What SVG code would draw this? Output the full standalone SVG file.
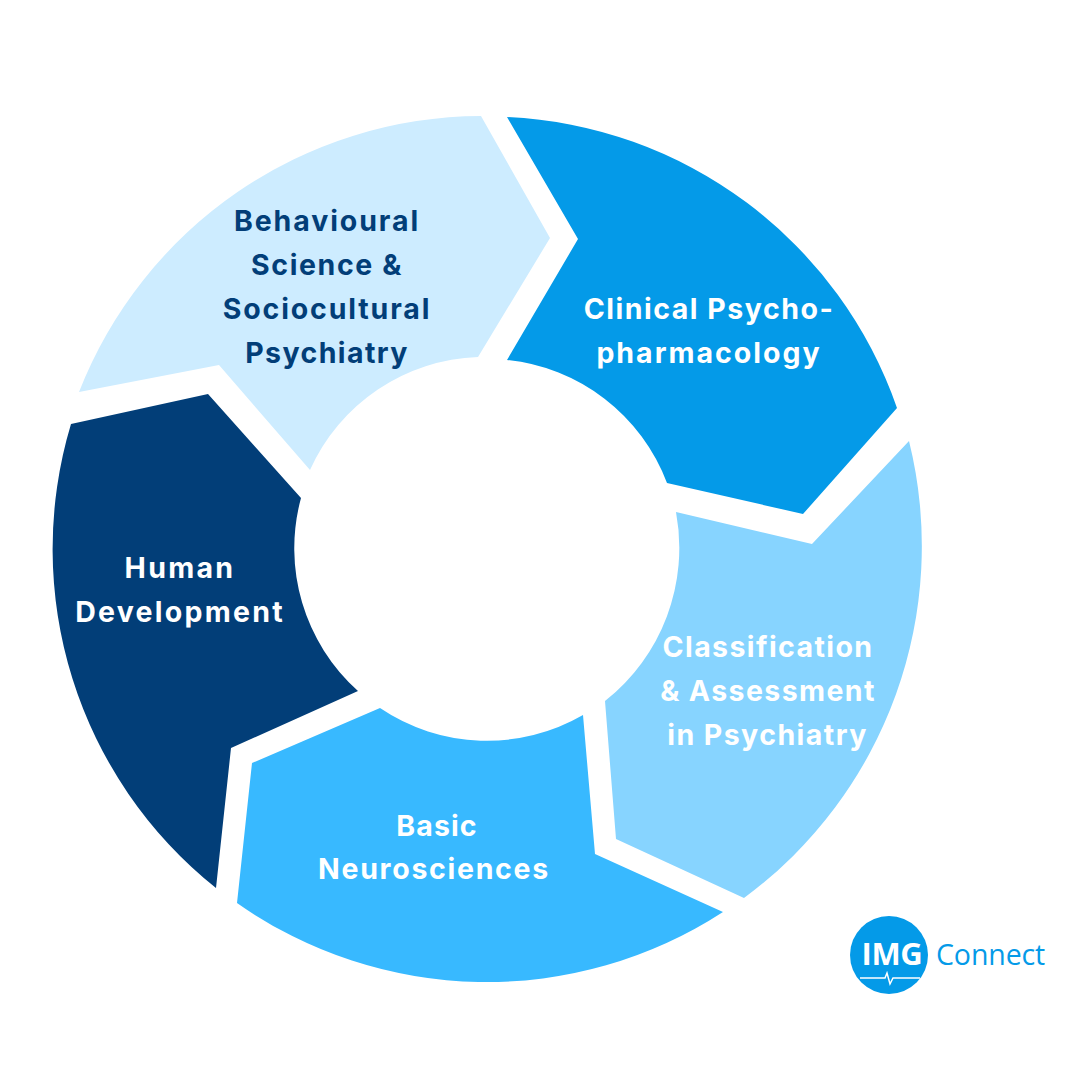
<svg xmlns="http://www.w3.org/2000/svg" width="1080" height="1080" viewBox="0 0 1080 1080">
<style>
.l{font-family:Inter,"Liberation Sans",sans-serif;font-weight:700;font-size:28.5px;letter-spacing:1.7px;text-anchor:middle}
.w{fill:#fff}.d{fill:#023e78}
</style>
<rect width="1080" height="1080" fill="#fff"/>
<g id="node-clinical"><path fill="#049ae8" d="M507 117A433.500 433.500 0 0 1 897 408L803 514L667 483A191.500 191.500 0 0 0 507 360L578 239Z"/>
<text class="l w" x="709" y="319" letter-spacing="1.5" style="letter-spacing:1.5px">Clinical Psycho-</text><text class="l w" x="709" y="363" style="letter-spacing:2px">pharmacology</text></g>
<g id="node-classification"><path fill="#87d4ff" d="M909 441A437 437 0 0 1 744 898L616 839L605 701A195 195 0 0 0 676 512L812 544Z"/>
<text class="l w" x="768" y="657" style="letter-spacing:1.4px">Classification</text><text class="l w" x="768" y="701" style="letter-spacing:1.4px">&amp; Assessment</text><text class="l w" x="767.500" y="745" style="letter-spacing:1.45px">in Psychiatry</text></g>
<g id="node-basic"><path fill="#38b9ff" d="M723 912A433.500 433.500 0 0 1 237 903L252 763L380 708A191.500 191.500 0 0 0 583 715L595 854Z"/>
<text class="l w" x="437" y="836" style="letter-spacing:1.1px">Basic</text><text class="l w" x="434" y="879">Neurosciences</text></g>
<g id="node-human"><path fill="#023e78" d="M216 888A433.500 433.500 0 0 1 71 424L208 394L301 498A191.500 191.500 0 0 0 358 691L231 748Z"/>
<text class="l w" x="180" y="578" style="letter-spacing:2.3px">Human</text><text class="l w" x="180" y="622" style="letter-spacing:2.25px">Development</text></g>
<g id="node-behavioural"><path fill="#cdecff" d="M79 392A433.500 433.500 0 0 1 481 116L550 238L478 357A191.500 191.500 0 0 0 310 470L219 365Z"/>
<text class="l d" x="327" y="231" style="letter-spacing:1.9px">Behavioural</text><text class="l d" x="327" y="275" style="letter-spacing:1.6px">Science &amp;</text><text class="l d" x="327" y="319" style="letter-spacing:1.85px">Sociocultural</text><text class="l d" x="327" y="363" style="letter-spacing:1.4px">Psychiatry</text></g>
<g id="connectors"></g>
<g id="logo"><circle cx="889" cy="955" r="39" fill="#049ae8"/>
<text x="892" y="965" text-anchor="middle" font-family="'Open Sans','Liberation Sans',sans-serif" font-weight="700" font-size="31" fill="#fff" letter-spacing="-0.3">IMG</text>
<path d="M860 978H885L887 973L890 984L893 978H920" fill="none" stroke="#fff" stroke-width="1.5"/>
<text x="936" y="965" font-family="'Open Sans','Liberation Sans',sans-serif" font-weight="400" font-size="28.500" fill="#049ae8" letter-spacing="-0.1">Connect</text></g>
</svg>
